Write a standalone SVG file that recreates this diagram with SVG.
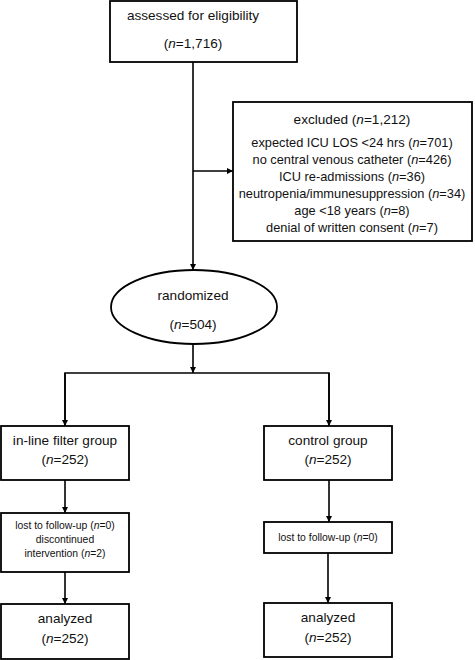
<svg xmlns="http://www.w3.org/2000/svg" width="475" height="660" viewBox="0 0 475 660">
<defs>
<marker id="ah" viewBox="0 0 10 10" refX="10" refY="5" markerWidth="6" markerHeight="6" markerUnits="userSpaceOnUse" orient="auto">
<path d="M0,0 L10,5 L0,10 z" fill="#000"/>
</marker>
<style>
.box{fill:#fff;stroke:#000;stroke-width:1.8}
.ln{fill:none;stroke:#000;stroke-width:1.6}
.arr{fill:none;stroke:#000;stroke-width:1.6;marker-end:url(#ah)}
text{font-family:"Liberation Sans",Arial,sans-serif;fill:#111;text-anchor:middle}
.t14{font-size:13.6px}
.t13{font-size:12.8px}
.t10{font-size:10.4px}
.i{font-style:italic}
</style>
</defs>
<rect width="475" height="660" fill="#fff"/>
<g id="connectors">
<line class="arr" x1="193" y1="62" x2="193" y2="270"/>
<line class="arr" x1="193" y1="171" x2="233" y2="171"/>
<line class="arr" x1="193" y1="344" x2="193" y2="373"/>
<polyline class="ln" points="65,426 65,373 329,373 329,426"/>
<line class="arr" x1="65" y1="373" x2="65" y2="426"/>
<line class="arr" x1="329" y1="373" x2="329" y2="426"/>
<line class="arr" x1="65" y1="480" x2="65" y2="513"/>
<line class="arr" x1="329" y1="480" x2="329" y2="522"/>
<line class="arr" x1="65" y1="572" x2="65" y2="604"/>
<line class="arr" x1="328" y1="553" x2="328" y2="603"/>
</g>
<g id="assessed">
<rect class="box" x="110" y="1" width="187" height="61"/>
<text class="t14" x="193" y="20">assessed for eligibility</text>
<text class="t14" x="193" y="48">(<tspan class="i">n</tspan>=1,716)</text>
</g>
<g id="excluded">
<rect class="box" x="233" y="102" width="239" height="139"/>
<text class="t14" x="352" y="124">excluded (<tspan class="i">n</tspan>=1,212)</text>
<text class="t13" x="352" y="146.5">expected ICU LOS &lt;24 hrs (<tspan class="i">n</tspan>=701)</text>
<text class="t13" x="352" y="163.5">no central venous catheter (<tspan class="i">n</tspan>=426)</text>
<text class="t13" x="352" y="180.5">ICU re-admissions (<tspan class="i">n</tspan>=36)</text>
<text class="t13" x="352" y="197.5">neutropenia/immunesuppression (<tspan class="i">n</tspan>=34)</text>
<text class="t13" x="352" y="214.5">age &lt;18 years (<tspan class="i">n</tspan>=8)</text>
<text class="t13" x="352" y="231.5">denial of written consent (<tspan class="i">n</tspan>=7)</text>
</g>
<g id="randomized">
<ellipse class="box" cx="194" cy="307" rx="83" ry="37"/>
<text class="t14" x="193" y="300">randomized</text>
<text class="t14" x="193" y="329">(<tspan class="i">n</tspan>=504)</text>
</g>
<g id="filter-group">
<rect class="box" x="1" y="426" width="128" height="54"/>
<text class="t14" x="65" y="445">in-line filter group</text>
<text class="t14" x="65" y="464">(<tspan class="i">n</tspan>=252)</text>
</g>
<g id="control-group">
<rect class="box" x="264" y="426" width="128" height="54"/>
<text class="t14" x="328" y="445">control group</text>
<text class="t14" x="328" y="464">(<tspan class="i">n</tspan>=252)</text>
</g>
<g id="filter-lost">
<rect class="box" x="1" y="513" width="128" height="59"/>
<text class="t10" x="65" y="529">lost to follow-up (<tspan class="i">n</tspan>=0)</text>
<text class="t10" x="65" y="543">discontinued</text>
<text class="t10" x="65" y="557">intervention (<tspan class="i">n</tspan>=2)</text>
</g>
<g id="control-lost">
<rect class="box" x="264" y="522" width="128" height="31"/>
<text class="t10" x="328" y="541">lost to follow-up (<tspan class="i">n</tspan>=0)</text>
</g>
<g id="filter-analyzed">
<rect class="box" x="1" y="604" width="128" height="55"/>
<text class="t14" x="65" y="623">analyzed</text>
<text class="t14" x="65" y="643">(<tspan class="i">n</tspan>=252)</text>
</g>
<g id="control-analyzed">
<rect class="box" x="264" y="603" width="128" height="54"/>
<text class="t14" x="328" y="622">analyzed</text>
<text class="t14" x="328" y="642">(<tspan class="i">n</tspan>=252)</text>
</g>
</svg>
